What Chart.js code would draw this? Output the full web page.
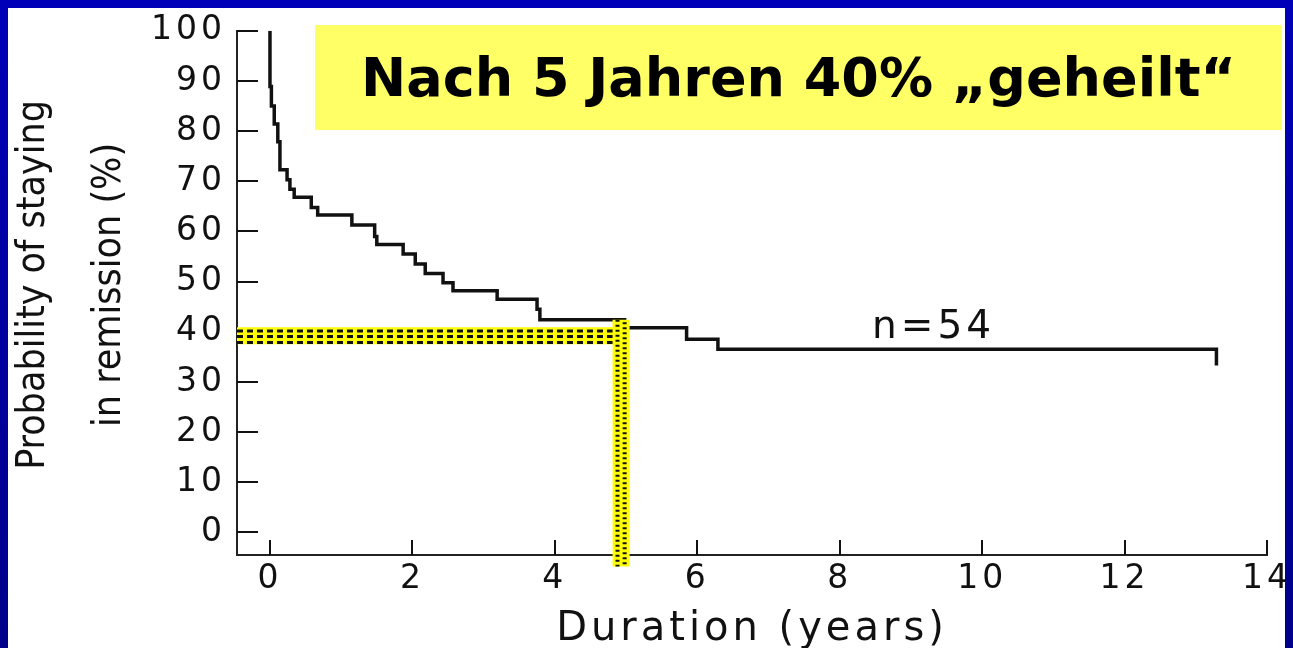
<!DOCTYPE html>
<html>
<head>
<meta charset="utf-8">
<script src="https://cdn.jsdelivr.net/npm/chart.js@4.4.1/dist/chart.umd.min.js"></script>
<style>
  html, body { margin: 0; padding: 0; }
  body {
    width: 1293px; height: 648px; overflow: hidden; position: relative;
    background: linear-gradient(#0000b8, #00008a);
  }
  #paper { position: absolute; left: 8px; top: 8px; right: 8px; bottom: -20px; background: #fff; }
  #wrap { position: absolute; left: 0; top: 0; width: 1293px; height: 648px; }
  #headline {
    position: absolute; left: 315px; top: 25px; width: 967px; height: 105px;
    background: #ffff66; color: #000;
    font: bold 54px "DejaVu Sans", sans-serif;
    display: flex; align-items: center; justify-content: center;
  }
</style>
</head>
<body>
<div id="paper"></div>
<div id="wrap"><canvas id="kmChart" width="1293" height="648"></canvas></div>
<div id="headline">Nach 5 Jahren 40% „geheilt“</div>
<script>
// Kaplan-Meier Kurve (Zeit in Jahren, Rest in %)
const years = [0, 0, 0.02, 0.06, 0.11, 0.14, 0.24, 0.28, 0.34, 0.58, 0.67, 1.15, 1.47, 1.50,
  1.87, 2.04, 2.18, 2.43, 2.57, 3.19, 3.75, 3.79, 4.98, 5.85, 6.29, 13.29, 13.29];
const remission = [100, 88.9, 85.0, 81.4, 77.9, 72.3, 70.3, 68.4, 66.8, 64.8, 63.3, 61.3, 59.0, 57.4,
  55.5, 53.5, 51.6, 49.8, 48.2, 46.5, 44.5, 42.4, 40.8, 38.5, 36.5, 36.5, 33.3];

const xTicks = [0, 2, 4, 6, 8, 10, 12, 14];
const yTicks = [0, 10, 20, 30, 40, 50, 60, 70, 80, 90, 100];

// Markierung "nach 5 Jahren 40%"
const markYear = 4.93;
const markPct = 39.2;
const markTop = 42.4;
const markBottom = -6.8;

const nLabel = 'n=54';
const nLabelYear = 9.29;
const nLabelPct = 40.8;

const xMin = -0.463;
const yMin = -4.49;

const curve = years.map((t, i) => ({ x: t, y: remission[i] }));

const hLine = (pct, endYear) => [{ x: xMin, y: pct }, { x: endYear, y: pct }];
const vLine = (yr) => [{ x: yr, y: markTop }, { x: yr, y: markBottom }];

const ink = '#111';
const yellow = '#ffff00';

// Tickmarks nach innen, Achsentitel links, n=54
const kmDecor = {
  id: 'kmDecor',
  beforeDraw(chart) {
    chart.ctx.letterSpacing = '4px';
  },
  beforeDatasetsDraw(chart) {
    const { ctx, scales: { x, y } } = chart;
    ctx.save();
    ctx.strokeStyle = ink;
    ctx.lineWidth = 2;
    ctx.beginPath();
    y.ticks.forEach((t) => {
      const py = Math.round(y.getPixelForValue(t.value));
      ctx.moveTo(x.left, py);
      ctx.lineTo(x.left + 21, py);
    });
    x.ticks.forEach((t) => {
      const px = Math.round(x.getPixelForValue(t.value));
      ctx.moveTo(px, y.bottom);
      ctx.lineTo(px, y.bottom - 15);
    });
    ctx.stroke();
    ctx.restore();
  },
  afterDraw(chart) {
    const { ctx, scales: { x, y } } = chart;
    ctx.save();
    ctx.fillStyle = ink;
    ctx.textAlign = 'center';
    ctx.textBaseline = 'middle';
    ctx.letterSpacing = '4px';
    ctx.font = '39px "DejaVu Sans"';
    ctx.fillText(nLabel, x.getPixelForValue(nLabelYear) + 2, y.getPixelForValue(nLabelPct));

    ctx.letterSpacing = '0px';
    ctx.fontStretch = 'condensed';
    ctx.font = '39px "DejaVu Sans Condensed", "DejaVu Sans"';
    const cy = (y.top + y.bottom) / 2 - 8;
    [['Probability of staying', 34], ['in remission (%)', 110]].forEach(([txt, cx]) => {
      ctx.save();
      ctx.translate(cx, cy);
      ctx.rotate(-Math.PI / 2);
      ctx.fillText(txt, 0, 0);
      ctx.restore();
    });
    ctx.restore();
  }
};

const ctx = document.getElementById('kmChart').getContext('2d');
new Chart(ctx, {
  type: 'line',
  data: {
    datasets: [
      // schwarze Punkte im senkrechten Balken
      { data: vLine(markYear - 0.05), borderColor: ink, borderWidth: 4, borderDash: [2, 3], clip: false, order: 0 },
      { data: vLine(markYear + 0.05), borderColor: ink, borderWidth: 4, borderDash: [2, 3], borderDashOffset: 2.5, clip: false, order: 0 },
      { data: vLine(markYear), borderColor: yellow, borderWidth: 17, borderCapStyle: 'butt', clip: false, order: 1 },
      // waagrechter Balken mit Strichen
      { data: hLine(markPct + 0.94, markYear), borderColor: ink, borderWidth: 3, borderDash: [6, 4], order: 2 },
      { data: hLine(markPct - 0.16, markYear), borderColor: ink, borderWidth: 3, borderDash: [6, 4], order: 2 },
      { data: hLine(markPct - 1.33, markYear), borderColor: ink, borderWidth: 3, borderDash: [6, 4], order: 2 },
      { data: hLine(markPct, markYear + 0.09), borderColor: yellow, borderWidth: 17, borderCapStyle: 'butt', order: 3 },
      // Kurve
      { data: curve, stepped: true, borderColor: ink, borderWidth: 3.5, order: 4 }
    ]
  },
  options: {
    responsive: false,
    animation: false,
    elements: { point: { radius: 0 }, line: { tension: 0, fill: false } },
    layout: { padding: { top: 20, right: 26, left: 0, bottom: 0 } },
    plugins: { legend: { display: false }, tooltip: { enabled: false } },
    scales: {
      x: {
        type: 'linear',
        min: xMin,
        max: 14,
        afterBuildTicks: (s) => { s.ticks = xTicks.map((v) => ({ value: v })); },
        afterFit: (s) => { s.height = 93; },
        grid: { drawOnChartArea: false, drawTicks: false },
        border: { display: true, color: '#222', width: 2 },
        ticks: { color: ink, font: { family: 'DejaVu Sans', size: 33 }, padding: 5, maxRotation: 0 },
        title: {
          display: true,
          text: 'Duration (years)',
          color: ink,
          font: { family: 'DejaVu Sans', size: 40, lineHeight: 0.9 },
          padding: 0
        }
      },
      y: {
        min: yMin,
        max: 100,
        afterBuildTicks: (s) => { s.ticks = yTicks.map((v) => ({ value: v })); },
        afterFit: (s) => { s.width = 237; },
        grid: { drawOnChartArea: false, drawTicks: false },
        border: { display: true, color: '#222', width: 2 },
        ticks: { color: ink, font: { family: 'DejaVu Sans', size: 33 }, padding: 11 }
      }
    }
  },
  plugins: [kmDecor]
});
</script>
</body>
</html>
